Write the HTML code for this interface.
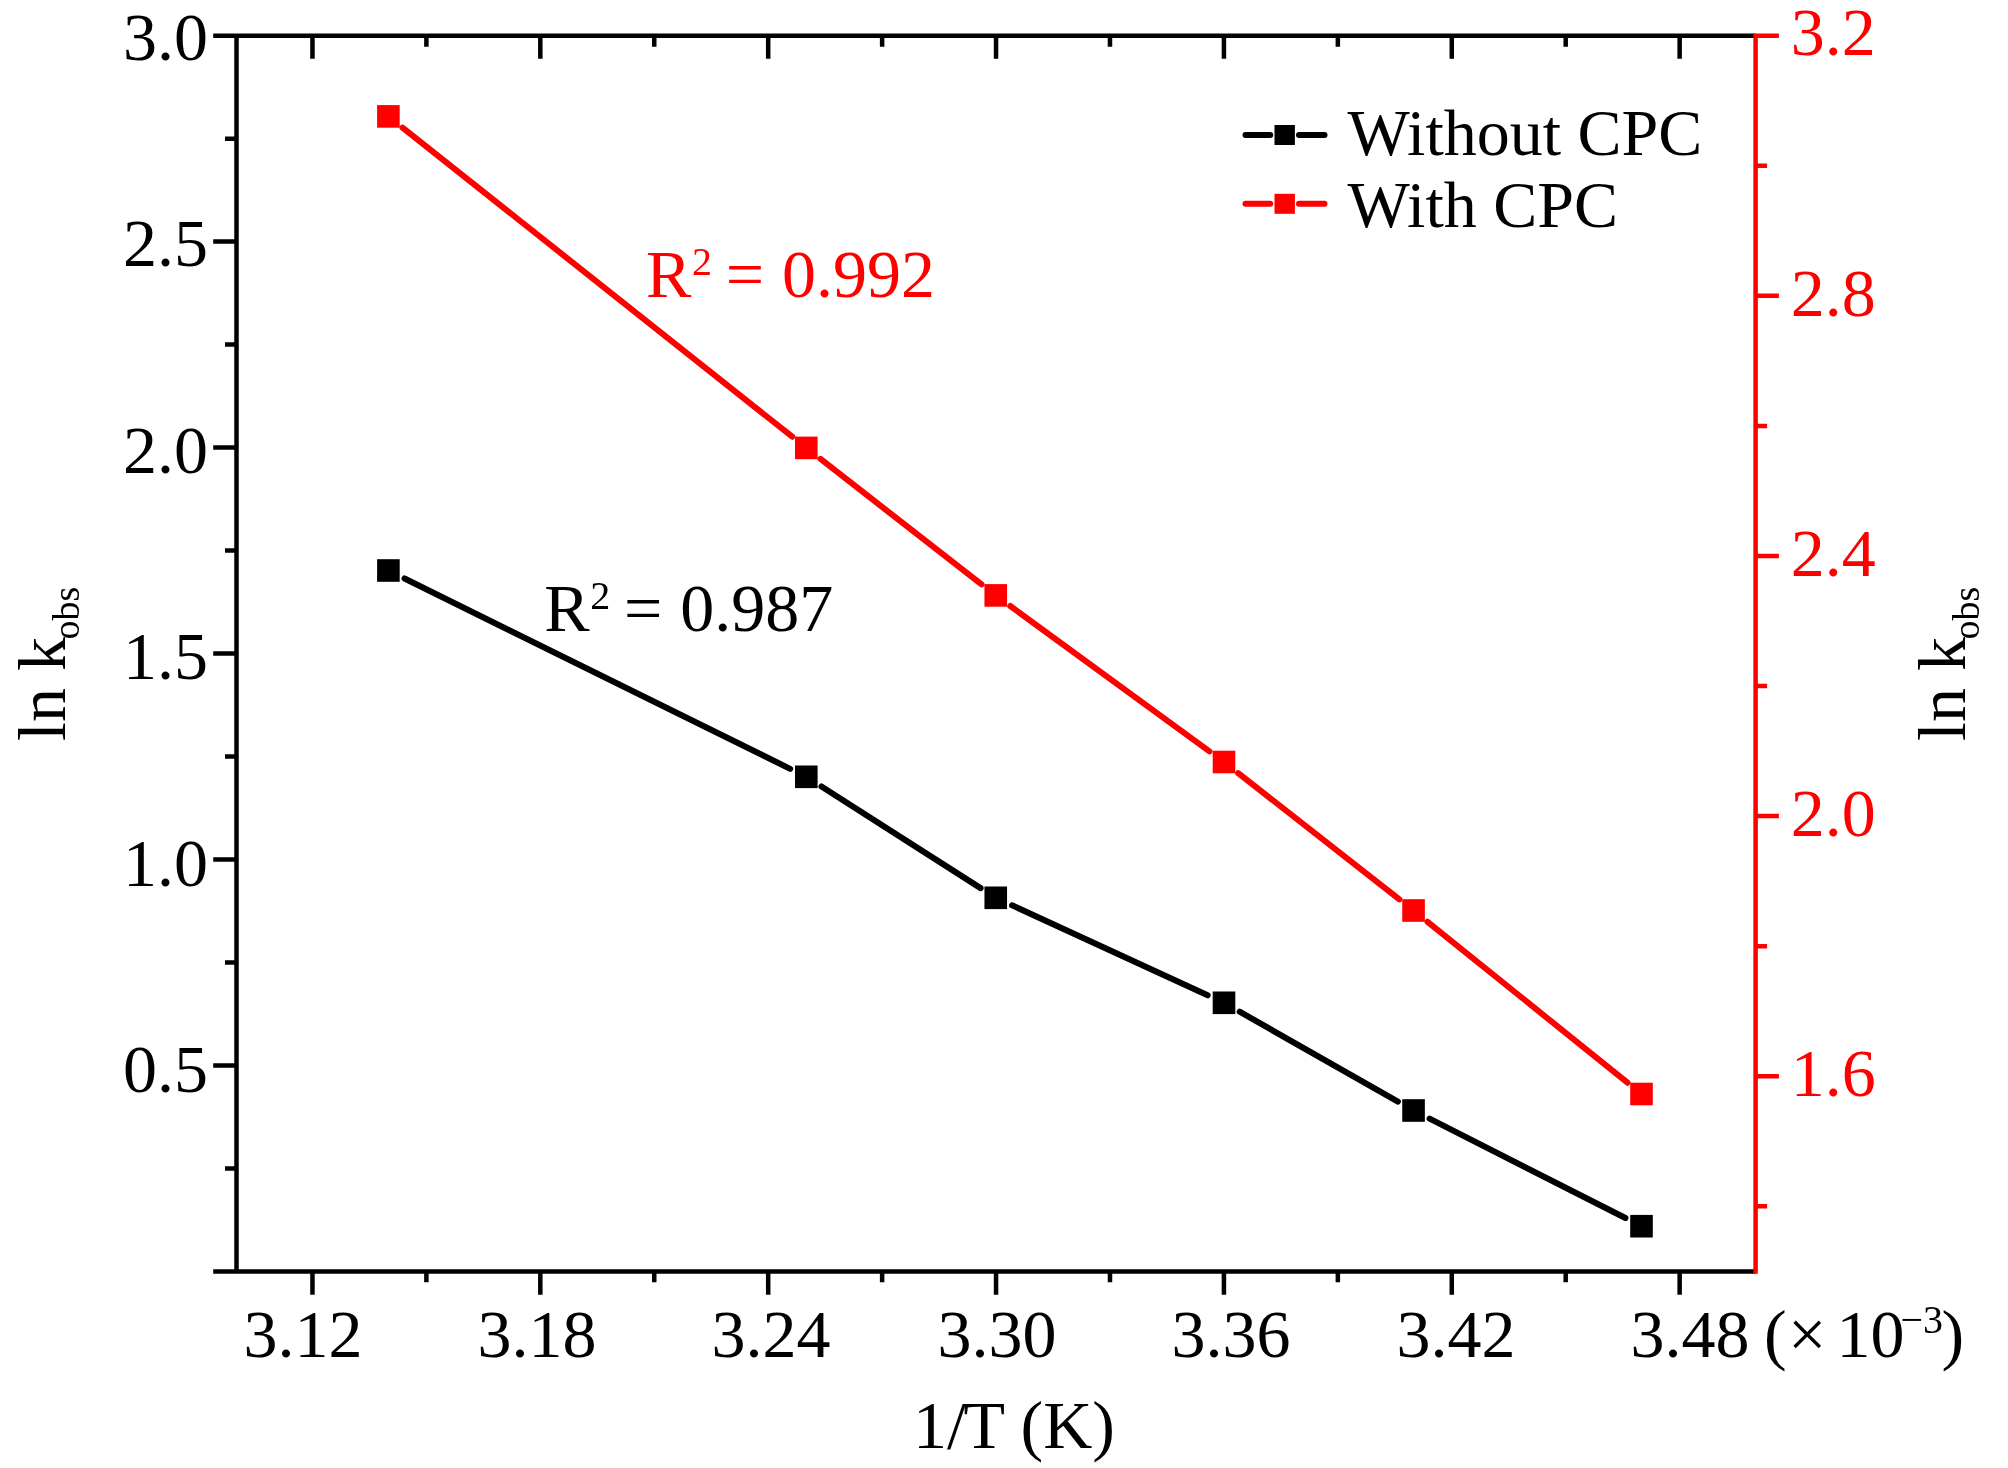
<!DOCTYPE html>
<html><head><meta charset="utf-8"><style>html,body{margin:0;padding:0;background:#fff;overflow:hidden}svg{display:block;will-change:transform}</style></head>
<body><svg width="2008" height="1468" viewBox="0 0 2008 1468">
<rect width="2008" height="1468" fill="#fff"/>
<path d="M213.2,1271.4H1755.6M213.2,35.65H1755.6M236.5,33.4V1273.65" stroke="#000" stroke-width="4.5" fill="none"/>
<path d="M213.2,1065.44H236.5M213.2,859.48H236.5M213.2,653.53H236.5M213.2,447.57H236.5M213.2,241.61H236.5M225.0,1168.42H236.5M225.0,962.46H236.5M225.0,756.50H236.5M225.0,550.55H236.5M225.0,344.59H236.5M225.0,138.63H236.5M312.46,1271.4V1294.7M312.46,35.65V58.65M540.32,1271.4V1294.7M540.32,35.65V58.65M768.19,1271.4V1294.7M768.19,35.65V58.65M996.05,1271.4V1294.7M996.05,35.65V58.65M1223.92,1271.4V1294.7M1223.92,35.65V58.65M1451.78,1271.4V1294.7M1451.78,35.65V58.65M1679.64,1271.4V1294.7M1679.64,35.65V58.65M426.39,1271.4V1282.2M426.39,35.65V46.65M654.25,1271.4V1282.2M654.25,35.65V46.65M882.12,1271.4V1282.2M882.12,35.65V46.65M1109.98,1271.4V1282.2M1109.98,35.65V46.65M1337.85,1271.4V1282.2M1337.85,35.65V46.65M1565.71,1271.4V1282.2M1565.71,35.65V46.65" stroke="#000" stroke-width="4.5" fill="none"/>
<path d="M1755.6,33.4V1273.65M1755.6,1076.28H1778.8999999999999M1755.6,816.12H1778.8999999999999M1755.6,555.97H1778.8999999999999M1755.6,295.81H1778.8999999999999M1755.6,35.65H1778.8999999999999M1755.6,1206.36H1767.1M1755.6,946.20H1767.1M1755.6,686.04H1767.1M1755.6,425.89H1767.1M1755.6,165.73H1767.1" stroke="#f00" stroke-width="4.5" fill="none"/>
<path d="M404.54,578.47L790.16,768.83M821.47,786.49L980.58,888.11M1012.10,905.32L1207.65,995.28M1239.65,1011.69L1397.90,1101.61M1429.60,1118.65L1625.45,1218.05" stroke="#000" stroke-width="6" stroke-linecap="round" fill="none"/>
<rect x="377.10" y="559.20" width="22.6" height="22.6" fill="#000"/>
<rect x="795.00" y="765.50" width="22.6" height="22.6" fill="#000"/>
<rect x="984.45" y="886.50" width="22.6" height="22.6" fill="#000"/>
<rect x="1212.70" y="991.50" width="22.6" height="22.6" fill="#000"/>
<rect x="1402.25" y="1099.20" width="22.6" height="22.6" fill="#000"/>
<rect x="1630.20" y="1214.90" width="22.6" height="22.6" fill="#000"/>
<path d="M402.50,127.59L792.20,436.71M820.50,458.96L981.55,584.34M1010.29,606.01L1209.46,751.39M1238.17,773.10L1399.38,899.40M1427.57,921.79L1627.48,1082.71" stroke="#f00" stroke-width="6" stroke-linecap="round" fill="none"/>
<rect x="377.10" y="105.10" width="22.6" height="22.6" fill="#f00"/>
<rect x="795.00" y="436.60" width="22.6" height="22.6" fill="#f00"/>
<rect x="984.45" y="584.10" width="22.6" height="22.6" fill="#f00"/>
<rect x="1212.70" y="750.70" width="22.6" height="22.6" fill="#f00"/>
<rect x="1402.25" y="899.20" width="22.6" height="22.6" fill="#f00"/>
<rect x="1630.20" y="1082.70" width="22.6" height="22.6" fill="#f00"/>
<path d="M1245.5,135H1270.2M1299,135H1324.5" stroke="#000" stroke-width="6" stroke-linecap="round" fill="none"/>
<rect x="1274.5" y="125" width="20.4" height="20" fill="#000"/>
<path d="M1245.5,203.8H1270.2M1299,203.8H1324.5" stroke="#f00" stroke-width="6" stroke-linecap="round" fill="none"/>
<rect x="1274.5" y="193.8" width="20.4" height="20" fill="#f00"/>
<text x="1347.4" y="155.4" font-family="Liberation Serif" font-size="66">Without CPC</text>
<text x="1347.4" y="226.7" font-family="Liberation Serif" font-size="66">With CPC</text>
<text x="208" y="1092.0" font-family="Liberation Serif" font-size="68" text-anchor="end">0.5</text>
<text x="208" y="885.6" font-family="Liberation Serif" font-size="68" text-anchor="end">1.0</text>
<text x="208" y="679.2" font-family="Liberation Serif" font-size="68" text-anchor="end">1.5</text>
<text x="208" y="472.8" font-family="Liberation Serif" font-size="68" text-anchor="end">2.0</text>
<text x="208" y="266.4" font-family="Liberation Serif" font-size="68" text-anchor="end">2.5</text>
<text x="208" y="60.0" font-family="Liberation Serif" font-size="68" text-anchor="end">3.0</text>
<text x="1790.8" y="1096.1" font-family="Liberation Serif" font-size="68" fill="#f00">1.6</text>
<text x="1790.8" y="835.9" font-family="Liberation Serif" font-size="68" fill="#f00">2.0</text>
<text x="1790.8" y="575.8" font-family="Liberation Serif" font-size="68" fill="#f00">2.4</text>
<text x="1790.8" y="315.6" font-family="Liberation Serif" font-size="68" fill="#f00">2.8</text>
<text x="1790.8" y="55.4" font-family="Liberation Serif" font-size="68" fill="#f00">3.2</text>
<text x="243.4" y="1356.9" font-family="Liberation Serif" font-size="68">3.12</text>
<text x="477.4" y="1356.9" font-family="Liberation Serif" font-size="68">3.18</text>
<text x="711.4" y="1356.9" font-family="Liberation Serif" font-size="68">3.24</text>
<text x="937.4" y="1356.9" font-family="Liberation Serif" font-size="68">3.30</text>
<text x="1171.6" y="1356.9" font-family="Liberation Serif" font-size="68">3.36</text>
<text x="1396.4" y="1356.9" font-family="Liberation Serif" font-size="68">3.42</text>
<text x="1630.6" y="1356.9" font-family="Liberation Serif" font-size="68">3.48</text>
<text y="1356.9" font-family="Liberation Serif" font-size="68"><tspan x="1764">(</tspan><tspan x="1788">×</tspan><tspan x="1836.5">10</tspan></text>
<text y="1333" font-family="Liberation Serif" font-size="40"><tspan x="1900.5">−3</tspan></text>
<text y="1356.9" font-family="Liberation Serif" font-size="68"><tspan x="1941.5">)</tspan></text>
<text y="1448.3" font-family="Liberation Serif" font-size="68"><tspan x="913">1/</tspan><tspan x="963.4">T</tspan><tspan x="1020.5">(K)</tspan></text>
<text transform="translate(64.7,741) rotate(-90)" y="0" font-family="Liberation Serif" font-size="68"><tspan x="0">ln k</tspan><tspan x="101.5" dy="14" font-size="38">obs</tspan></text>
<text transform="translate(1964.7,741) rotate(-90)" y="0" font-family="Liberation Serif" font-size="68"><tspan x="0">ln k</tspan><tspan x="101.5" dy="14" font-size="38">obs</tspan></text>
<text y="296.9" font-family="Liberation Serif" font-size="68" fill="#f00"><tspan x="646.1">R</tspan><tspan x="725.7">=</tspan><tspan x="781.9">0.992</tspan></text>
<text y="275.4" font-family="Liberation Serif" font-size="40" fill="#f00"><tspan x="691.9">2</tspan></text>
<text y="630.6" font-family="Liberation Serif" font-size="68" fill="#000"><tspan x="544.2">R</tspan><tspan x="624.1">=</tspan><tspan x="680.3">0.987</tspan></text>
<text y="609.1" font-family="Liberation Serif" font-size="40" fill="#000"><tspan x="590.3">2</tspan></text>
</svg></body></html>
